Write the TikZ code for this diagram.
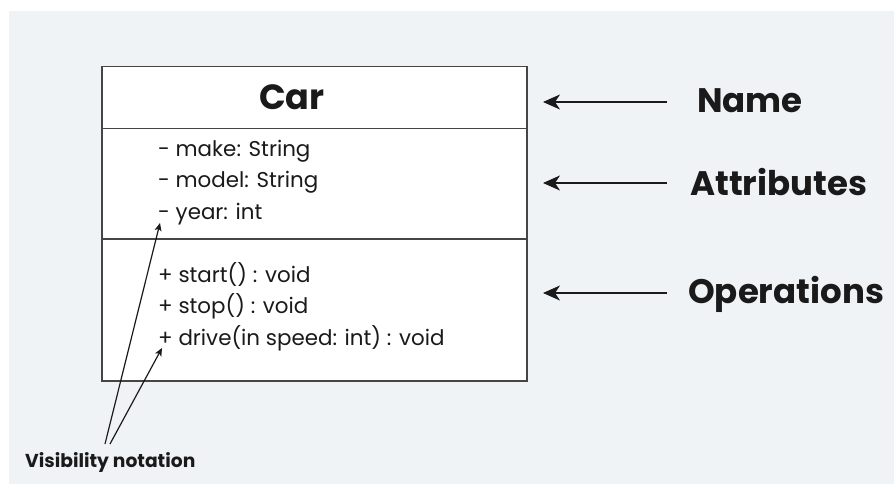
\documentclass[tikz,border=0pt]{standalone}
\usepackage{fontspec}
\setmainfont{Poppins}
\usetikzlibrary{arrows.meta}
\definecolor{bgc}{HTML}{F0F3F6}
\definecolor{boxline}{HTML}{454545}
\definecolor{txt}{HTML}{1A1A1A}
\tikzset{
  comp/.style={draw=boxline, line width=1.5pt, fill=white, anchor=north west, minimum width=425pt, inner sep=0pt},
  member/.style={anchor=base west, inner sep=0pt, font=\fontsize{21.4}{24}\selectfont, text=txt},
  biglabel/.style={anchor=base west, inner sep=0pt, font=\bfseries\fontsize{34}{38}\selectfont, text=txt},
  pointer/.style={line width=2pt, draw=txt, -{Stealth[length=17pt,width=15pt,inset=5pt]}},
  vispointer/.style={line width=1.2pt, draw=txt, -{Stealth[length=8pt,width=7pt,inset=2pt]}}
}
\begin{document}
\begin{tikzpicture}[x=1pt,y=-1pt]
\useasboundingbox (0,0) rectangle (894,484);
\fill[white] (0,0) rectangle (894,484);
\fill[bgc] (9,11) rectangle (894,484);
% compartments
\node[comp, minimum height=62pt] (namecomp) at (101,66) {};
\node[comp, minimum height=110pt] (attrcomp) at (101,128) {};
\node[comp, minimum height=142pt] (opscomp) at (101,238) {};
% class name
\node[anchor=base, inner sep=0pt, font=\bfseries\fontsize{35}{40}\selectfont, text=txt] (carname) at (292,110) {Car};
% attributes
\node[member] (make) at (158,157) {- make: String};
\node[member] (model) at (158,187) {- model: String};
\node[member] (year) at (158,219) {- year: int};
% operations
\node[member] (start) at (158,282) {+ start() : void};
\node[member] (stop) at (158,313) {+ stop() : void};
\node[member] (drive) at (158,345) {+ drive(in speed: int) : void};
% right labels
\node[biglabel] (lname) at (697,113) {Name};
\node[biglabel] (lattr) at (690,195) {Attributes};
\node[biglabel] (lops) at (688,303) {Operations};
\coordinate (t1) at (667,102); \coordinate (h1) at (543,102);
\coordinate (t2) at (667,183); \coordinate (h2) at (543,183);
\coordinate (t3) at (667,293); \coordinate (h3) at (543,293);
\draw[pointer] (t1) -- (h1);
\draw[pointer] (t2) -- (h2);
\draw[pointer] (t3) -- (h3);
% visibility notation
\node[anchor=base west, inner sep=0pt, font=\bfseries\fontsize{18.7}{21}\selectfont, text=txt] (vis) at (25,467) {Visibility notation};
\coordinate (v1) at (105,444); \coordinate (v2) at (110,444);
\coordinate (a1) at (160,223); \coordinate (a2) at (162,348);
\draw[vispointer] (v1) -- (a1);
\draw[vispointer] (v2) -- (a2);
\end{tikzpicture}
\end{document}
